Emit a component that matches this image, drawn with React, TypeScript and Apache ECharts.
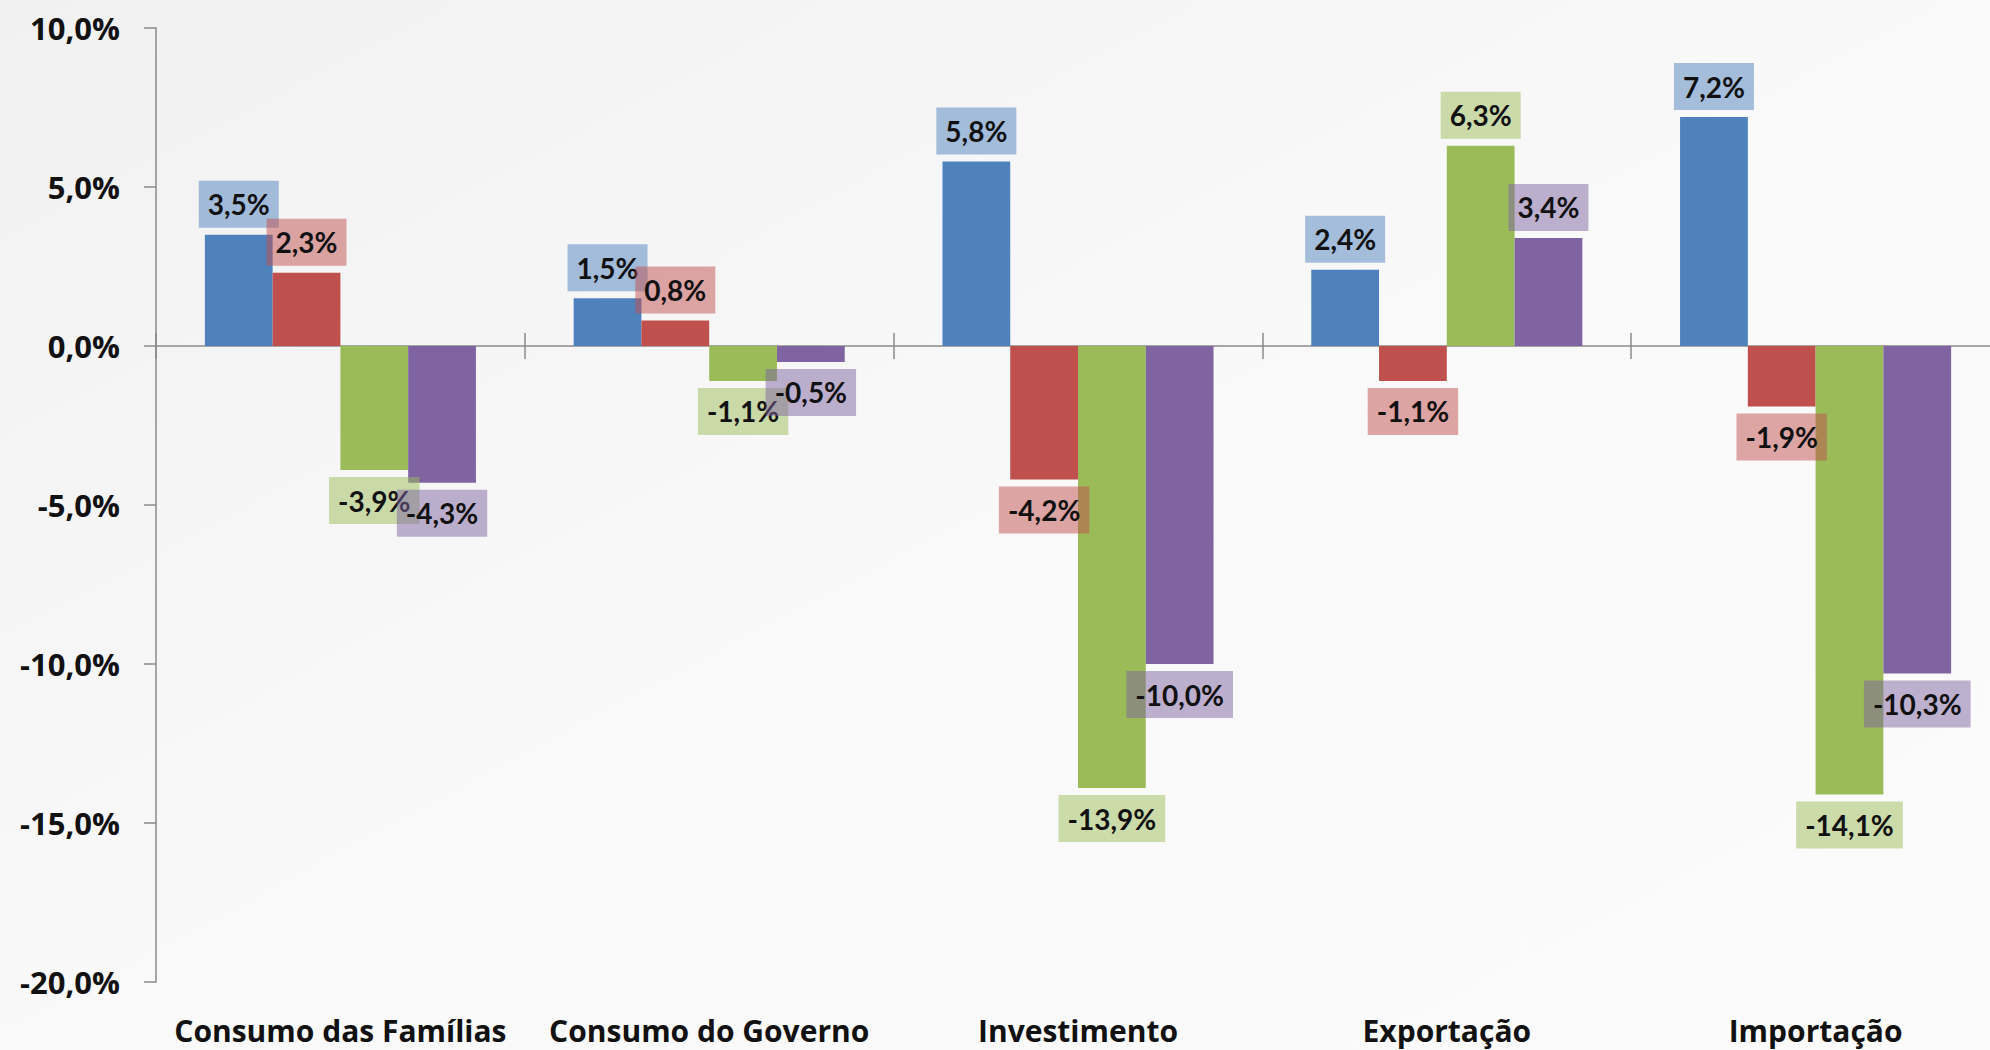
import React, { useEffect, useRef } from "react";
import * as echarts from "echarts";

const categories = [
  "Consumo das Famílias",
  "Consumo do Governo",
  "Investimento",
  "Exportação",
  "Importação",
];
const serieA = [3.5, 1.5, 5.8, 2.4, 7.2];
const serieB = [2.3, 0.8, -4.2, -1.1, -1.9];
const serieC = [-3.9, -1.1, -13.9, 6.3, -14.1];
const serieD = [-4.3, -0.5, -10.0, 3.4, -10.3];
const yTicks = { min: -20, max: 10, interval: 5 };

const colors = ["#4f81bd", "#c0504d", "#9bbb59", "#8064a2"];
const labelBg = [
  "rgba(79,129,189,0.5)",
  "rgba(192,80,77,0.5)",
  "rgba(155,187,89,0.5)",
  "rgba(128,100,162,0.5)",
];
const LABEL_FONT = "Lato, 'Open Sans', sans-serif";
const AXIS_FONT = "'Open Sans', Lato, sans-serif";
const AXIS_GRAY = "#8a8a8a";

const fmt = (v: number) => v.toFixed(1).replace(".", ",") + "%";

export default function App() {
  const ref = useRef<HTMLDivElement>(null);
  useEffect(() => {
    if (!ref.current) return;
    const chart = echarts.init(ref.current, null, { renderer: "svg" });
    const all = [serieA, serieB, serieC, serieD];
    const series = all.map((vals, i) => ({
      type: "bar",
      name: "Série " + (i + 1),
      xAxisIndex: 0,
      yAxisIndex: 0,
      barGap: "0%",
      barCategoryGap: "26.5%",
      itemStyle: { color: colors[i] },
      data: vals.map((v) => ({
        value: v,
        label: { position: v >= 0 ? "top" : "bottom" },
      })),
      label: {
        show: true,
        distance: 7,
        formatter: (p: any) => fmt(p.value),
        fontFamily: LABEL_FONT,
        fontWeight: "bold",
        fontSize: 28,
        lineHeight: 31,
        color: "#111",
        backgroundColor: labelBg[i],
        padding: [8, 9, 8, 9],
      },
    }));
    chart.setOption({
      animation: false,
      backgroundColor: {
        type: "linear",
        x: 0,
        y: 0,
        x2: 1,
        y2: 1,
        colorStops: [
          { offset: 0, color: "#f1f1f1" },
          { offset: 0.5, color: "#f9f9f9" },
          { offset: 1, color: "#fbfbfb" },
        ],
      },
      grid: {
        left: 156,
        top: 28,
        width: 1844,
        height: 954,
        containLabel: false,
        outerBoundsMode: "none",
      },
      xAxis: [
        {
          type: "category",
          data: categories,
          position: "bottom",
          axisLine: { show: true, onZero: true, onZeroAxisIndex: 0, lineStyle: { color: AXIS_GRAY, width: 1.5 } },
          axisTick: { show: true, inside: false, length: 13, lineStyle: { color: AXIS_GRAY, width: 1.5 } },
          axisLabel: { show: false },
        },
        {
          type: "category",
          data: categories,
          position: "bottom",
          axisLine: { show: true, onZero: true, onZeroAxisIndex: 1, lineStyle: { color: "rgba(0,0,0,0)" } },
          axisTick: { show: true, inside: true, length: 13, lineStyle: { color: AXIS_GRAY, width: 1.5 } },
          axisLabel: { show: false },
        },
        {
          type: "category",
          data: categories,
          position: "bottom",
          axisLine: { show: false, onZero: false },
          axisTick: { show: false },
          axisLabel: {
            show: true,
            interval: 0,
            hideOverlap: false,
            margin: 32,
            fontFamily: AXIS_FONT,
            fontWeight: "bold",
            fontSize: 30,
            lineHeight: 32,
            color: "#111",
          },
        },
      ],
      yAxis: [
        {
          type: "value",
          min: yTicks.min,
          max: yTicks.max,
          interval: yTicks.interval,
          splitLine: { show: false },
          axisLine: { show: true, lineStyle: { color: AXIS_GRAY, width: 1.5 } },
          axisTick: { show: true, length: 12, lineStyle: { color: AXIS_GRAY, width: 1.5 } },
          axisLabel: {
            margin: 36,
            formatter: (v: number) => fmt(v),
            fontFamily: AXIS_FONT,
            fontWeight: "bold",
            fontSize: 31,
            color: "#111",
          },
        },
        {
          type: "value",
          min: yTicks.min,
          max: yTicks.max,
          interval: yTicks.interval,
          show: false,
          splitLine: { show: false },
        },
      ],
      series,
    });
    return () => chart.dispose();
  }, []);
  return (
    <div
      ref={ref}
      style={{ position: "fixed", left: 0, top: 0, width: 1990, height: 1050 }}
    />
  );
}
